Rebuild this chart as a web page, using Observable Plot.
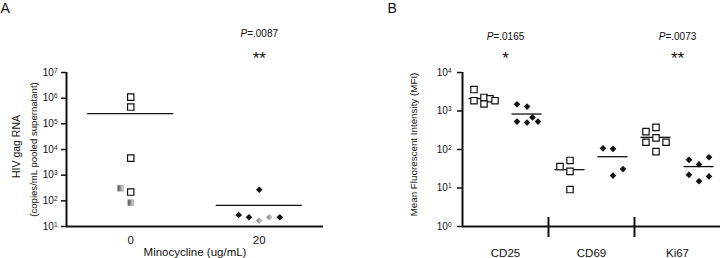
<!DOCTYPE html>
<html><head><meta charset="utf-8">
<script src="https://cdn.jsdelivr.net/npm/d3@7"></script>
<script src="https://cdn.jsdelivr.net/npm/@observablehq/plot@0.6"></script>
<style>
body{margin:0;background:#fff;}
#wrap{display:flex;width:720px;height:258px;overflow:hidden;}
#wrap svg{display:block;flex:none;}
</style></head><body><div id="wrap"></div>
<script>
const FONT = '"Liberation Sans", Arial, Helvetica, sans-serif';

// ---------- Panel A data ----------
const aGroups = ["0", "20"];
const aXTitle = "Minocycline (ug/mL)";
const aYTitle1 = "HIV gag RNA";
const aYTitle2 = "(copies/mL pooled supernatant)";
const aTickExps = [1, 2, 3, 4, 5, 6, 7];
const aPointGroup = ["0", "0", "0", "0", "0", "0", "20", "20", "20", "20", "20", "20"];
const aPointValue = [1.1e6, 4.5e5, 4600, 220, 310, 85, 270, 28, 23, 17, 23, 23];
const aPointSlot  = [0, 0, 0, 0, -1, 0, 0, -2, -1, 0, 1, 2];
const aPointStyle = ["open", "open", "open", "open", "shaded", "shaded", "solid", "solid", "solid", "shaded", "shaded", "solid"];
const aMedian = [2.5e5, 66];
const aPValue = ["", "=.0087"];
const aStars = ["", "**"];

// ---------- Panel B data ----------
const bMarkers = ["CD25", "CD69", "Ki67"];
const bTickExps = [0, 1, 2, 3, 4];
const bCD25Untreated = [3600, 1850, 2250, 2080, 1850, 1520];
const bCD25UntreatedSlot = [-1, -1, 0, 0.6, 1.1, 0];
const bCD25Mino = [1500, 1300, 530, 500, 680, 530];
const bCD25MinoSlot = [-1, 0, -1, 0, 0.55, 1.1];
const bCD69Untreated = [36, 52, 27, 9.1];
const bCD69UntreatedSlot = [-1, 0, 0, 0];
const bCD69Mino = [107, 104, 21, 31];
const bCD69MinoSlot = [-1, 0, 0, 1];
const bKi67Untreated = [291, 376, 200, 154, 154, 88];
const bKi67UntreatedSlot = [-1, 0, 0, -1, 1, 0];
const bKi67Mino = [54, 41, 63, 22, 15, 20];
const bKi67MinoSlot = [-1, 0, 1, -1, 0, 1];
const bMedian = [2100, 835, 30, 65, 207, 36]; // CD25 untr, CD25 mino, CD69 untr, CD69 mino, Ki67 untr, Ki67 mino
const bPValue = ["=.0165", "", "=.0073"];
const bStars = ["*", "", "**"];
const bYTitle = "Mean Fluorescent Intensity (MFI)";

// ---------- helpers ----------
const fmtPow = d => "10^" + Math.round(Math.log10(d));
const INK = "#111";

function pLabelMarks(xs, values, dy) {
  const keep = values.map((v, i) => i).filter(i => values[i]);
  return [
    Plot.text(keep, {x: i => xs[i], text: () => "P", frameAnchor: "top", lineAnchor: "middle", dy, dx: -12.1, textAnchor: "end", fontStyle: "italic", fontSize: 10, fill: INK}),
    Plot.text(keep, {x: i => xs[i], text: i => values[i], frameAnchor: "top", lineAnchor: "middle", dy, dx: -12.1, textAnchor: "start", fontSize: 10, fill: INK})
  ];
}
function starMarks(xs, stars, dy) {
  const keep = stars.map((v, i) => i).filter(i => stars[i]);
  return Plot.text(keep, {x: i => xs[i], text: i => stars[i], frameAnchor: "top", lineAnchor: "middle", textAnchor: "middle", dy, fontSize: 17, fill: INK});
}
function superscriptTicks(svg) {
  d3.select(svg).selectAll("text").each(function () {
    const m = /^10\^(\d+)$/.exec(this.textContent);
    if (!m) return;
    this.textContent = "10";
    d3.select(this).append("tspan").attr("dy", "-0.45em").attr("font-size", "0.65em").text(m[1]);
  });
}

// ---------- Panel A ----------
const aData = aPointValue.map((v, i) => ({group: aPointGroup[i], value: v, slot: aPointSlot[i], style: aPointStyle[i]}));
const aPos = aGroups.map((g, i) => i + 0.5);
const ax = d => aPos[aGroups.indexOf(d.group)] + d.slot * 0.08;
const isSq = d => d.group === aGroups[0];

const plotA = Plot.plot({
  width: 360, height: 258,
  marginLeft: 66, marginRight: 37, marginTop: 72, marginBottom: 32,
  style: {fontFamily: FONT, fontSize: "10px", color: INK, background: "#fff"},
  x: {type: "linear", domain: [0, aGroups.length], axis: null},
  y: {type: "log", domain: [10 ** aTickExps[0], 10 ** aTickExps[aTickExps.length - 1]], axis: null},
  marks: [
    Plot.axisY({ticks: aTickExps.map(e => 10 ** e), tickSize: 5, tickPadding: 4, tickFormat: fmtPow, fontSize: 10, strokeWidth: 1.5, label: null}),
    Plot.axisX({ticks: aPos, tickSize: 0, tickPadding: 9, tickFormat: d => aGroups[aPos.indexOf(d)], fontSize: 11.5, label: null}),
    Plot.ruleX([0], {stroke: INK, strokeWidth: 2}),
    Plot.ruleY([10 ** aTickExps[0]], {stroke: INK, strokeWidth: 2}),
    Plot.ruleY(aMedian, {y: d => d, x1: (d, i) => aPos[i] - 0.335, x2: (d, i) => aPos[i] + 0.335, stroke: INK, strokeWidth: 1.3}),
    Plot.dot(aData, {filter: d => d.style === "open" && isSq(d), x: ax, y: "value", symbol: "square", r: 3.6, fill: "white", stroke: INK, strokeWidth: 1.2}),
    Plot.dot(aData, {filter: d => d.style === "shaded" && isSq(d), x: ax, y: "value", symbol: "square", r: 3.3, fill: "url(#aShadeSq)", stroke: "#888", strokeWidth: 0.5}),
    Plot.dot(aData, {filter: d => d.style === "solid" && !isSq(d), x: ax, y: "value", symbol: "diamond2", r: 3, fill: INK}),
    Plot.dot(aData, {filter: d => d.style === "shaded" && !isSq(d), x: ax, y: "value", symbol: "diamond2", r: 3, fill: "url(#aShadeDia)"}),
    Plot.text(["A"], {frameAnchor: "top-left", lineAnchor: "middle", textAnchor: "start", dx: -66, dy: -63.5, fontSize: 14, fill: INK}),
    ...pLabelMarks(aPos, aPValue, -38.6),
    starMarks(aPos, aStars, -13.6),
    Plot.text([aXTitle], {frameAnchor: "bottom", lineAnchor: "middle", textAnchor: "middle", dy: 26, fontSize: 11.5, fill: INK}),
    Plot.text([aYTitle1], {frameAnchor: "left", lineAnchor: "middle", textAnchor: "middle", rotate: -90, dx: -50, dy: -3, fontSize: 10.5, fill: INK}),
    Plot.text([aYTitle2], {frameAnchor: "left", lineAnchor: "middle", textAnchor: "middle", rotate: -90, dx: -33, dy: 0, fontSize: 9.6, fill: INK})
  ]
});
d3.select(plotA).insert("defs", ":first-child").html(
  '<linearGradient id="aShadeSq" x1="0" x2="1" y1="0" y2="0"><stop offset="0" stop-color="#4a4a4a"/><stop offset="1" stop-color="#e0e0e0"/></linearGradient>' +
  '<linearGradient id="aShadeDia" x1="0" x2="1" y1="0" y2="0"><stop offset="0" stop-color="#7a7a7a"/><stop offset="1" stop-color="#d8d8d8"/></linearGradient>'
);
superscriptTicks(plotA);

// ---------- Panel B ----------
const bGroups = [
  {marker: 0, treat: 0, values: bCD25Untreated, slots: bCD25UntreatedSlot},
  {marker: 0, treat: 1, values: bCD25Mino, slots: bCD25MinoSlot},
  {marker: 1, treat: 0, values: bCD69Untreated, slots: bCD69UntreatedSlot},
  {marker: 1, treat: 1, values: bCD69Mino, slots: bCD69MinoSlot},
  {marker: 2, treat: 0, values: bKi67Untreated, slots: bKi67UntreatedSlot},
  {marker: 2, treat: 1, values: bKi67Mino, slots: bKi67MinoSlot}
];
const bData = bGroups.flatMap(g => g.values.map((v, i) => ({marker: g.marker, treat: g.treat, value: v, slot: g.slots[i]})));
const bSub = d => d.marker * 2 + d.treat + 0.5;
const bx = d => bSub(d) + d.slot * 0.233;
const bCenters = bMarkers.map((m, i) => 2 * i + 1);
const bSeps = bMarkers.slice(1).map((m, i) => 2 * (i + 1));

const plotB = Plot.plot({
  width: 360, height: 258,
  marginLeft: 102, marginRight: 0, marginTop: 72, marginBottom: 32,
  style: {fontFamily: FONT, fontSize: "10px", color: INK, background: "#fff"},
  x: {type: "linear", domain: [0, bMarkers.length * 2], axis: null},
  y: {type: "log", domain: [10 ** bTickExps[0], 10 ** bTickExps[bTickExps.length - 1]], axis: null},
  marks: [
    Plot.axisY({ticks: bTickExps.map(e => 10 ** e), tickSize: 5, tickPadding: 6, tickFormat: fmtPow, fontSize: 10, strokeWidth: 1.5, label: null}),
    Plot.axisX({ticks: bCenters, tickSize: 0, tickPadding: 22, tickFormat: d => bMarkers[bCenters.indexOf(d)], fontSize: 11.5, label: null}),
    Plot.ruleX([0], {stroke: INK, strokeWidth: 2}),
    Plot.ruleY([10 ** bTickExps[0]], {stroke: INK, strokeWidth: 2}),
    Plot.ruleX(bSeps, {stroke: INK, strokeWidth: 2, insetTop: 145, insetBottom: -11}),
    Plot.ruleY(bMedian, {y: d => d, x1: (d, i) => i + 0.5 - 0.35, x2: (d, i) => i + 0.5 + 0.35, stroke: INK, strokeWidth: 1.3}),
    Plot.dot(bData, {filter: d => d.treat === 0, x: bx, y: "value", symbol: "square", r: 3.6, fill: "white", stroke: INK, strokeWidth: 1.2}),
    Plot.dot(bData, {filter: d => d.treat === 1, x: bx, y: "value", symbol: "diamond2", r: 3, fill: INK}),
    Plot.text(["B"], {frameAnchor: "top-left", lineAnchor: "middle", textAnchor: "start", dx: -75, dy: -63.5, fontSize: 14, fill: INK}),
    ...pLabelMarks(bCenters, bPValue, -36),
    starMarks(bCenters, bStars, -13.6),
    Plot.text([bYTitle], {frameAnchor: "left", lineAnchor: "middle", textAnchor: "middle", rotate: -90, dx: -49, dy: -5, fontSize: 9.8, fill: INK})
  ]
});
superscriptTicks(plotB);

document.getElementById("wrap").append(plotA, plotB);
</script>
</body></html>
